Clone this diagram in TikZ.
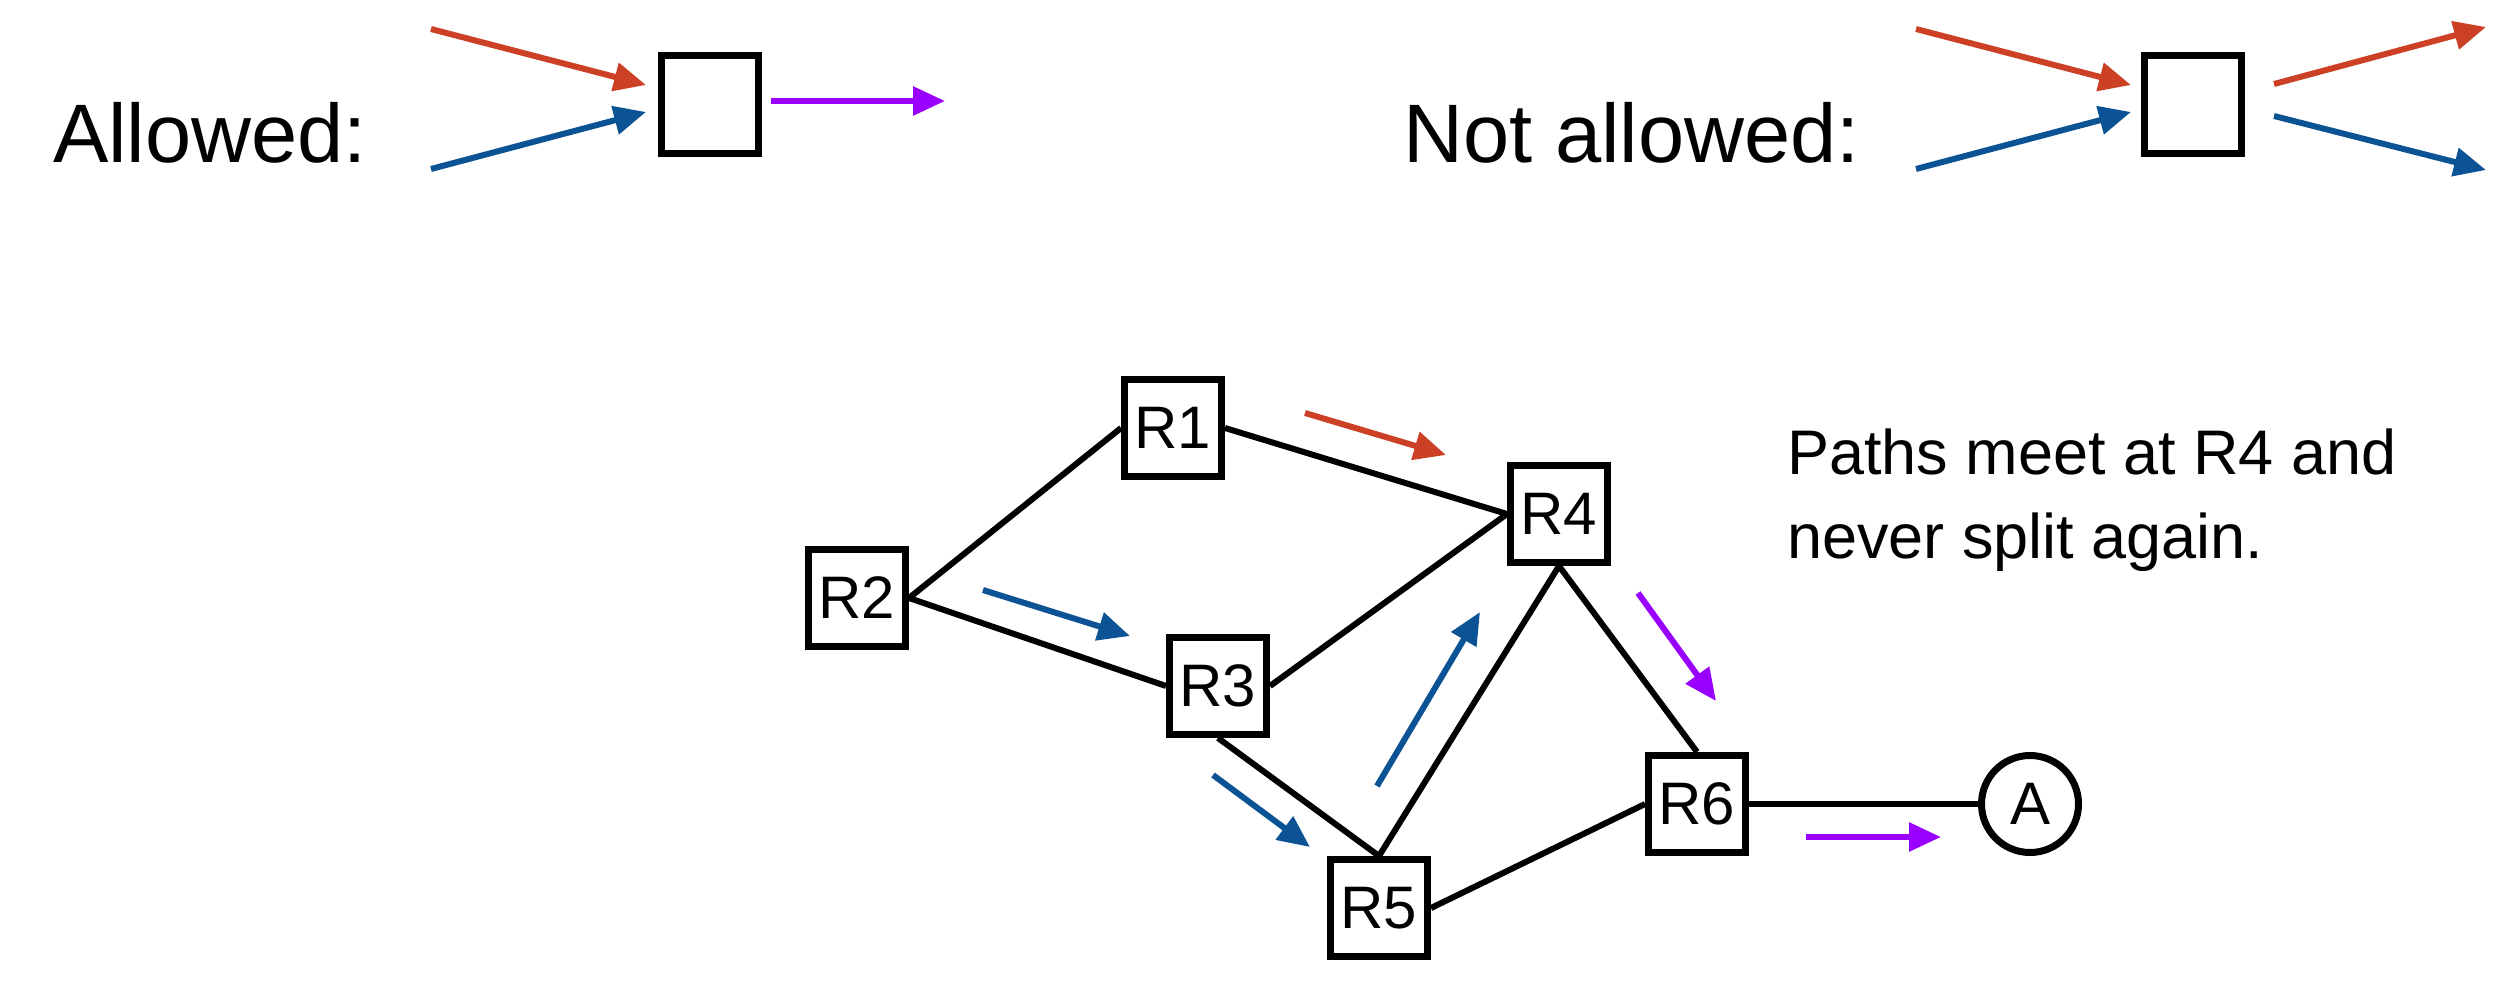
\documentclass[tikz,border=0pt]{standalone}
\usepackage{fontspec}
\setmainfont{Liberation Sans}
\usetikzlibrary{arrows.meta}
\definecolor{cred}{HTML}{CC4125}
\definecolor{cblue}{HTML}{0B5394}
\definecolor{cpurple}{HTML}{9900FF}
\begin{document}
\begin{tikzpicture}[x=1pt,y=-1pt,
  box/.style={draw,line width=7pt,minimum width=97pt,minimum height=97pt,inner sep=0pt,font=\fontsize{60}{64}\selectfont},
  circ/.style={draw,circle,line width=7pt,minimum size=97pt,inner sep=0pt,font=\fontsize{60}{64}\selectfont},
  link/.style={line width=6pt},
  flow/.style={line width=6pt,-{Triangle[length=32pt,width=28pt]}},
  big/.style={font=\fontsize{83}{90}\selectfont,anchor=base west,inner sep=0pt},
  note/.style={font=\fontsize{63}{70}\selectfont,anchor=base west,inner sep=0pt}]
\useasboundingbox (0,0) rectangle (2520,990);

% ---- top legend ----
\node[big] (allowed) at (53,162) {Allowed:};
\node[box] (b1) at (710,104.5) {};
\coordinate (a1s) at (431,29);  \coordinate (a1e) at (646,85);
\coordinate (a2s) at (431,169); \coordinate (a2e) at (646,112);
\coordinate (a3s) at (771,101); \coordinate (a3e) at (945,101);
\draw[flow,cred] (a1s) -- (a1e);
\draw[flow,cblue] (a2s) -- (a2e);
\draw[flow,cpurple] (a3s) -- (a3e);

\node[big] (notallowed) at (1403,162) {Not allowed:};
\node[box] (b2) at (2193,104.5) {};
\coordinate (n1s) at (1916,29);  \coordinate (n1e) at (2131,85);
\coordinate (n2s) at (1916,169); \coordinate (n2e) at (2131,112);
\coordinate (n3s) at (2274,84);  \coordinate (n3e) at (2486,27);
\coordinate (n4s) at (2274,116); \coordinate (n4e) at (2486,170);
\draw[flow,cred] (n1s) -- (n1e);
\draw[flow,cblue] (n2s) -- (n2e);
\draw[flow,cred] (n3s) -- (n3e);
\draw[flow,cblue] (n4s) -- (n4e);

% ---- graph ----
\node[box] (R1) at (1173,428) {R1};
\node[box] (R2) at (857,598) {R2};
\node[box] (R3) at (1218,686) {R3};
\node[box] (R4) at (1559,514) {R4};
\node[box] (R5) at (1379,908) {R5};
\node[box] (R6) at (1697,804) {R6};
\node[circ] (A) at (2030,804) {A};

\draw[link] (R2.east) -- (R1.west);
\draw[link] (R2.east) -- (R3.west);
\draw[link] (R1.east) -- (R4.west);
\draw[link] (R3.east) -- (R4.west);
\draw[link] (R3.south) -- (R5.north);
\draw[link] (R5.north) -- (R4.south);
\draw[link] (R4.south) -- (R6.north);
\draw[link] (R5.east) -- (R6.west);
\draw[link] (R6.east) -- (A.west);

\coordinate (f1s) at (1305,413); \coordinate (f1e) at (1446,455);
\coordinate (f2s) at (983,590);  \coordinate (f2e) at (1130,636);
\coordinate (f3s) at (1213,775); \coordinate (f3e) at (1310,847);
\coordinate (f4s) at (1377,786); \coordinate (f4e) at (1480,612);
\coordinate (f5s) at (1638,593); \coordinate (f5e) at (1716,701);
\coordinate (f6s) at (1806,837); \coordinate (f6e) at (1941,837);
\draw[flow,cred] (f1s) -- (f1e);
\draw[flow,cblue] (f2s) -- (f2e);
\draw[flow,cblue] (f3s) -- (f3e);
\draw[flow,cblue] (f4s) -- (f4e);
\draw[flow,cpurple] (f5s) -- (f5e);
\draw[flow,cpurple] (f6s) -- (f6e);

\node[note] (t1) at (1787,474) {Paths meet at R4 and};
\node[note] (t2) at (1787,558) {never split again.};
\end{tikzpicture}
\end{document}
